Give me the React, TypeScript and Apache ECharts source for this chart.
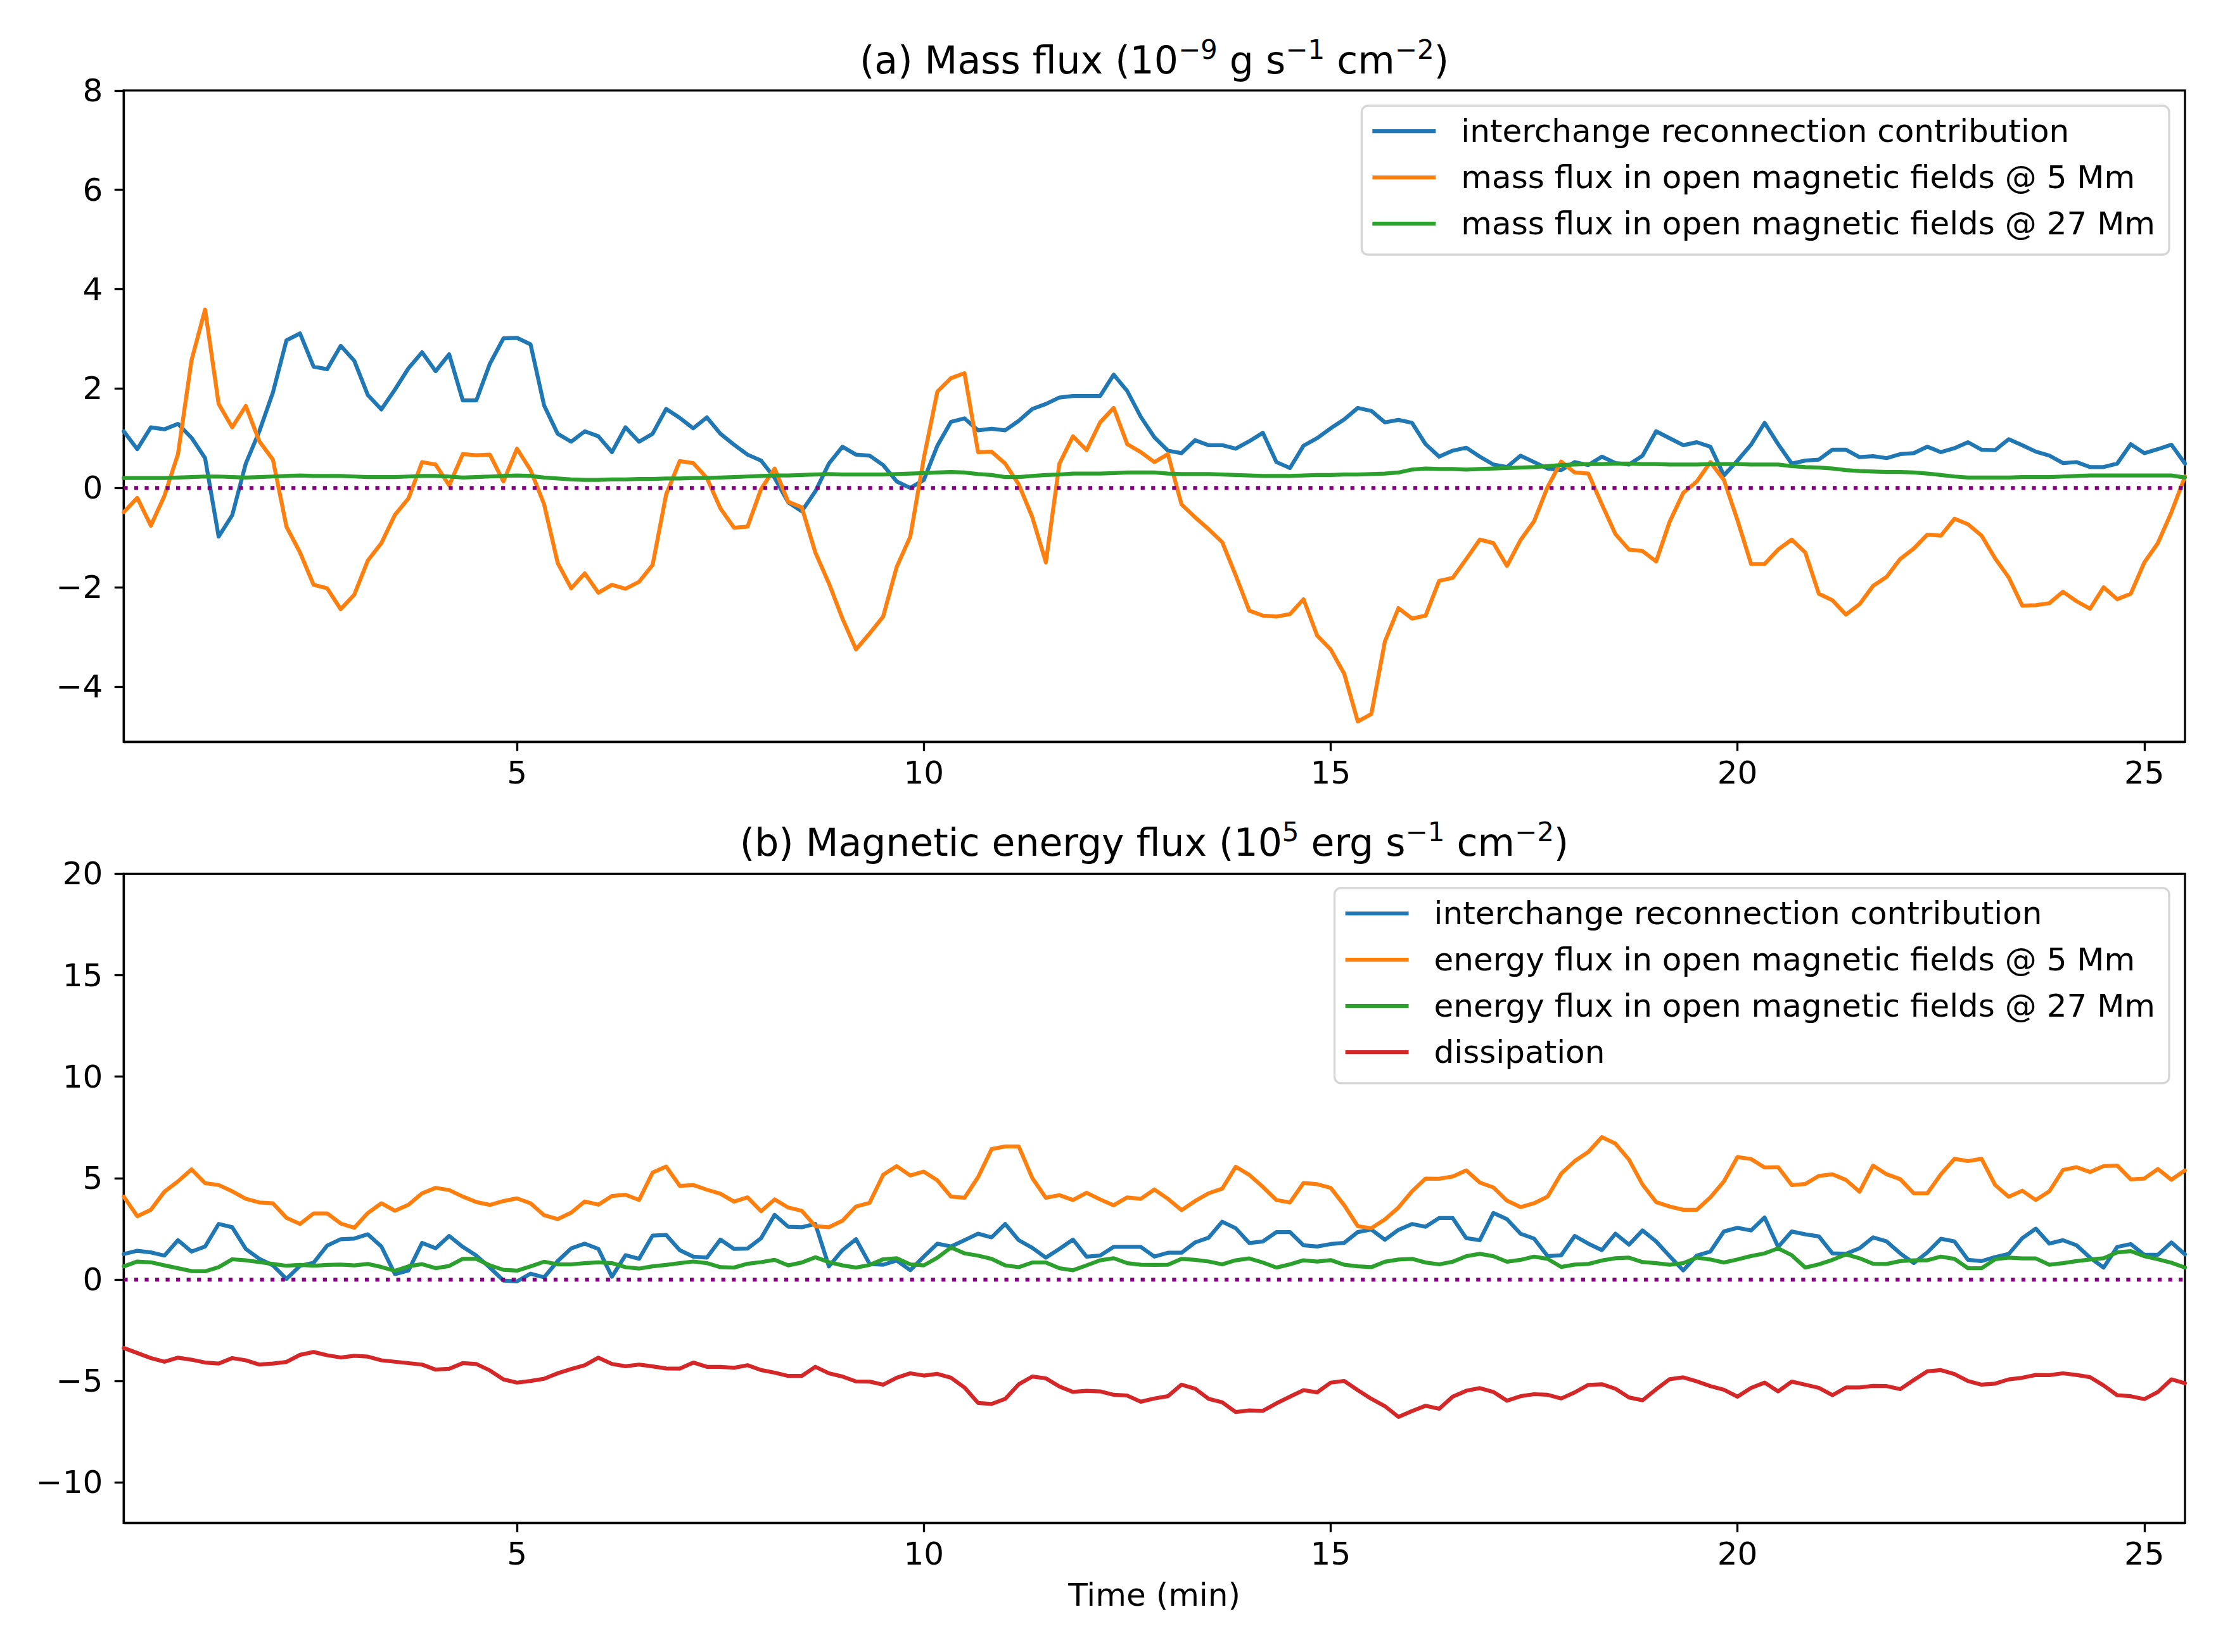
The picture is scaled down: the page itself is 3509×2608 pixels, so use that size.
import React, { useEffect, useRef } from "react";
import * as echarts from "echarts";

const FONT = "DejaVu Sans";

// Panel (a): mass flux (1e-9 g s^-1 cm^-2), one sample every 10 s
const MASS_RECON = [
  1.14, 0.78, 1.22, 1.18, 1.29, 1.01, 0.60, -0.98, -0.55, 0.49, 1.14, 1.92, 2.97, 3.11, 2.44, 2.39, 2.86, 2.56, 1.87, 1.58,
  1.98, 2.41, 2.73, 2.35, 2.69, 1.76, 1.76, 2.50, 3.01, 3.02, 2.89, 1.66, 1.09, 0.93, 1.14, 1.04, 0.72, 1.22, 0.93,
  1.09, 1.59, 1.41, 1.20, 1.42, 1.09, 0.87, 0.67, 0.55, 0.20, -0.29, -0.47, -0.07, 0.49, 0.83, 0.67, 0.65, 0.46, 0.13, 0.00,
  0.16, 0.85, 1.33, 1.40, 1.16, 1.19, 1.16, 1.35, 1.59, 1.69, 1.82, 1.85, 1.85, 1.85, 2.28, 1.95, 1.43, 1.02,
  0.75, 0.70, 0.96, 0.86, 0.86, 0.79, 0.94, 1.11, 0.52, 0.40, 0.85, 1.00, 1.20, 1.38, 1.61, 1.55, 1.32, 1.37, 1.31, 0.88,
  0.63, 0.75, 0.81, 0.63, 0.47, 0.42, 0.65, 0.52, 0.39, 0.36, 0.52, 0.46, 0.63, 0.50, 0.47, 0.65, 1.14, 1.00,
  0.86, 0.92, 0.83, 0.25, 0.55, 0.87, 1.31, 0.88, 0.49, 0.55, 0.57, 0.77, 0.77, 0.62, 0.64, 0.60, 0.68, 0.70, 0.83, 0.72,
  0.80, 0.92, 0.77, 0.76, 0.98, 0.86, 0.73, 0.65, 0.50, 0.52, 0.42, 0.42, 0.49, 0.88, 0.70, 0.78, 0.87, 0.49,
];
const MASS_5MM = [
  -0.49, -0.20, -0.76, -0.16, 0.68, 2.57, 3.59, 1.69, 1.22, 1.65, 0.94, 0.57, -0.78, -1.30, -1.95, -2.02, -2.44, -2.15, -1.46, -1.11,
  -0.54, -0.21, 0.52, 0.47, 0.05, 0.68, 0.66, 0.67, 0.13, 0.79, 0.36, -0.33, -1.51, -2.02, -1.72, -2.11, -1.95, -2.03, -1.89,
  -1.55, -0.13, 0.54, 0.50, 0.20, -0.41, -0.80, -0.78, -0.02, 0.39, -0.28, -0.39, -1.30, -1.92, -2.63, -3.25, -2.93, -2.59, -1.59, -0.98,
  0.60, 1.94, 2.21, 2.31, 0.72, 0.73, 0.49, 0.07, -0.59, -1.50, 0.49, 1.04, 0.76, 1.32, 1.61, 0.88, 0.72, 0.52,
  0.68, -0.33, -0.59, -0.83, -1.09, -1.76, -2.47, -2.57, -2.59, -2.54, -2.24, -2.97, -3.25, -3.74, -4.70, -4.55, -3.09, -2.42, -2.63, -2.57,
  -1.87, -1.81, -1.43, -1.04, -1.11, -1.57, -1.05, -0.67, 0.02, 0.53, 0.31, 0.29, -0.33, -0.93, -1.24, -1.27, -1.48, -0.68,
  -0.10, 0.13, 0.52, 0.16, -0.65, -1.53, -1.53, -1.24, -1.04, -1.30, -2.13, -2.26, -2.55, -2.34, -1.97, -1.79, -1.43, -1.22, -0.94, -0.96,
  -0.62, -0.73, -0.96, -1.42, -1.80, -2.37, -2.36, -2.32, -2.09, -2.28, -2.43, -2.00, -2.24, -2.13, -1.50, -1.11, -0.49, 0.23,
];
const MASS_27MM = [
  0.20, 0.20, 0.20, 0.20, 0.21, 0.22, 0.23, 0.23, 0.22, 0.21, 0.22, 0.23, 0.24, 0.25, 0.24, 0.24, 0.24, 0.23, 0.22, 0.22,
  0.22, 0.23, 0.24, 0.24, 0.23, 0.21, 0.22, 0.23, 0.24, 0.25, 0.24, 0.21, 0.19, 0.17, 0.16, 0.16, 0.17, 0.17, 0.18,
  0.18, 0.19, 0.19, 0.20, 0.20, 0.21, 0.22, 0.23, 0.24, 0.25, 0.25, 0.26, 0.27, 0.28, 0.27, 0.27, 0.27, 0.27, 0.28, 0.29,
  0.30, 0.31, 0.32, 0.31, 0.28, 0.26, 0.22, 0.22, 0.24, 0.26, 0.27, 0.29, 0.29, 0.29, 0.30, 0.31, 0.31, 0.31,
  0.29, 0.28, 0.28, 0.28, 0.27, 0.26, 0.25, 0.24, 0.24, 0.24, 0.25, 0.26, 0.26, 0.27, 0.27, 0.28, 0.29, 0.31, 0.37, 0.39,
  0.38, 0.38, 0.37, 0.38, 0.39, 0.40, 0.41, 0.42, 0.44, 0.46, 0.47, 0.48, 0.48, 0.49, 0.49, 0.48, 0.48, 0.47,
  0.47, 0.47, 0.48, 0.48, 0.48, 0.47, 0.47, 0.47, 0.44, 0.42, 0.41, 0.39, 0.36, 0.34, 0.33, 0.32, 0.32, 0.31, 0.29, 0.26,
  0.23, 0.21, 0.21, 0.21, 0.21, 0.22, 0.22, 0.22, 0.23, 0.24, 0.25, 0.25, 0.25, 0.25, 0.25, 0.25, 0.25, 0.21,
];

// Panel (b): magnetic energy flux (1e5 erg s^-1 cm^-2)
const ENERGY_RECON = [
  1.26, 1.42, 1.34, 1.18, 1.94, 1.38, 1.63, 2.74, 2.58, 1.51, 1.02, 0.70, 0.03, 0.68, 0.83, 1.67, 1.99, 2.02, 2.23, 1.63,
  0.27, 0.45, 1.81, 1.54, 2.15, 1.61, 1.18, 0.59, -0.05, -0.09, 0.29, 0.11, 0.91, 1.54, 1.77, 1.51, 0.14, 1.20, 1.02,
  2.17, 2.20, 1.45, 1.13, 1.08, 1.97, 1.51, 1.53, 2.04, 3.19, 2.60, 2.58, 2.74, 0.65, 1.45, 1.99, 0.77, 0.73, 0.94, 0.46,
  1.13, 1.77, 1.63, 1.94, 2.26, 2.08, 2.74, 1.94, 1.56, 1.08, 1.51, 1.97, 1.13, 1.18, 1.61, 1.61, 1.61, 1.13,
  1.32, 1.32, 1.83, 2.06, 2.85, 2.53, 1.80, 1.88, 2.34, 2.34, 1.69, 1.63, 1.75, 1.81, 2.34, 2.47, 1.96, 2.45, 2.74, 2.60,
  3.03, 3.03, 2.04, 1.94, 3.28, 2.98, 2.26, 2.02, 1.15, 1.20, 2.15, 1.77, 1.45, 2.26, 1.72, 2.42, 1.88, 1.15,
  0.45, 1.18, 1.38, 2.37, 2.55, 2.42, 3.06, 1.61, 2.37, 2.23, 2.13, 1.29, 1.27, 1.54, 2.08, 1.88, 1.29, 0.81, 1.34, 2.01,
  1.88, 0.97, 0.91, 1.11, 1.26, 2.04, 2.51, 1.77, 1.94, 1.69, 1.08, 0.59, 1.61, 1.75, 1.22, 1.22, 1.83, 1.24,
];
const ENERGY_5MM = [
  4.09, 3.12, 3.44, 4.33, 4.84, 5.43, 4.75, 4.66, 4.35, 3.98, 3.80, 3.76, 3.04, 2.74, 3.26, 3.26, 2.76, 2.55, 3.28, 3.76,
  3.39, 3.69, 4.25, 4.52, 4.41, 4.09, 3.82, 3.68, 3.87, 4.00, 3.76, 3.17, 2.98, 3.30, 3.85, 3.69, 4.12, 4.18, 3.92,
  5.27, 5.57, 4.62, 4.66, 4.43, 4.23, 3.84, 4.05, 3.37, 3.95, 3.55, 3.39, 2.63, 2.58, 2.90, 3.60, 3.78, 5.16, 5.59, 5.13,
  5.32, 4.89, 4.09, 4.03, 5.05, 6.43, 6.56, 6.56, 5.00, 4.03, 4.16, 3.92, 4.28, 3.95, 3.66, 4.05, 3.98, 4.44,
  3.98, 3.42, 3.87, 4.25, 4.48, 5.56, 5.16, 4.57, 3.92, 3.80, 4.76, 4.70, 4.52, 3.66, 2.63, 2.53, 2.96, 3.55, 4.35, 4.98,
  4.97, 5.08, 5.38, 4.78, 4.54, 3.89, 3.57, 3.76, 4.09, 5.22, 5.84, 6.29, 7.02, 6.70, 5.91, 4.68, 3.82, 3.60,
  3.44, 3.44, 4.05, 4.84, 6.04, 5.94, 5.52, 5.54, 4.66, 4.71, 5.11, 5.19, 4.91, 4.33, 5.62, 5.19, 4.95, 4.25, 4.25, 5.19,
  5.95, 5.84, 5.95, 4.66, 4.08, 4.38, 3.92, 4.35, 5.40, 5.54, 5.30, 5.59, 5.62, 4.94, 4.98, 5.45, 4.92, 5.38,
];
const ENERGY_27MM = [
  0.65, 0.89, 0.85, 0.70, 0.56, 0.42, 0.41, 0.61, 1.00, 0.95, 0.86, 0.77, 0.68, 0.72, 0.68, 0.72, 0.74, 0.70, 0.77, 0.62,
  0.43, 0.65, 0.76, 0.56, 0.67, 1.02, 1.02, 0.70, 0.48, 0.44, 0.65, 0.88, 0.75, 0.75, 0.81, 0.85, 0.81, 0.61, 0.54,
  0.65, 0.72, 0.81, 0.89, 0.81, 0.61, 0.59, 0.78, 0.86, 0.97, 0.70, 0.84, 1.10, 0.86, 0.70, 0.59, 0.72, 1.00, 1.05, 0.75,
  0.70, 1.08, 1.58, 1.29, 1.18, 1.02, 0.70, 0.61, 0.84, 0.84, 0.56, 0.46, 0.70, 0.95, 1.05, 0.81, 0.73, 0.72,
  0.73, 1.02, 0.97, 0.89, 0.75, 0.95, 1.04, 0.84, 0.59, 0.75, 0.95, 0.89, 0.96, 0.73, 0.65, 0.61, 0.88, 0.99, 1.02, 0.84,
  0.75, 0.88, 1.15, 1.27, 1.15, 0.88, 0.97, 1.13, 1.02, 0.62, 0.74, 0.77, 0.94, 1.05, 1.08, 0.86, 0.81, 0.73,
  0.81, 1.08, 0.99, 0.84, 0.99, 1.16, 1.29, 1.54, 1.20, 0.59, 0.75, 0.97, 1.24, 1.05, 0.78, 0.77, 0.91, 0.95, 0.95, 1.13,
  1.02, 0.56, 0.56, 1.00, 1.08, 1.04, 1.04, 0.73, 0.81, 0.91, 0.99, 1.05, 1.34, 1.40, 1.15, 1.00, 0.83, 0.59,
];
const DISSIPATION = [
  -3.37, -3.62, -3.87, -4.05, -3.85, -3.95, -4.09, -4.14, -3.87, -3.98, -4.19, -4.14, -4.06, -3.71, -3.57, -3.73, -3.84, -3.76, -3.80, -3.98,
  -4.05, -4.12, -4.19, -4.44, -4.40, -4.12, -4.16, -4.48, -4.92, -5.08, -5.00, -4.89, -4.62, -4.41, -4.22, -3.85, -4.16, -4.27, -4.19,
  -4.28, -4.38, -4.39, -4.09, -4.30, -4.30, -4.35, -4.22, -4.46, -4.59, -4.75, -4.75, -4.30, -4.62, -4.78, -5.02, -5.03, -5.18, -4.84, -4.62,
  -4.73, -4.65, -4.84, -5.32, -6.08, -6.13, -5.88, -5.16, -4.78, -4.87, -5.27, -5.54, -5.48, -5.51, -5.68, -5.72, -6.02, -5.86,
  -5.75, -5.18, -5.38, -5.88, -6.05, -6.53, -6.45, -6.47, -6.10, -5.77, -5.45, -5.56, -5.08, -5.00, -5.45, -5.88, -6.24, -6.77, -6.48, -6.22,
  -6.37, -5.77, -5.48, -5.35, -5.54, -5.97, -5.75, -5.65, -5.68, -5.86, -5.56, -5.19, -5.16, -5.38, -5.81, -5.95, -5.41, -4.91,
  -4.82, -5.02, -5.25, -5.43, -5.77, -5.34, -5.08, -5.51, -5.03, -5.18, -5.34, -5.70, -5.32, -5.32, -5.24, -5.25, -5.40, -4.95, -4.52, -4.46,
  -4.66, -5.00, -5.18, -5.13, -4.92, -4.84, -4.70, -4.71, -4.62, -4.70, -4.81, -5.22, -5.70, -5.75, -5.89, -5.54, -4.92, -5.11,
];

// sample times in minutes (10 s cadence, first sample at 10 s)
const TIME_MIN = MASS_RECON.map((_, i) => (i + 1) / 6);
const X_MIN = TIME_MIN[0];
const X_MAX = TIME_MIN[TIME_MIN.length - 1];
const X_TICKS = [5, 10, 15, 20, 25];

const YA_MIN = -5.11;
const YA_MAX = 8;
const YA_TICKS = [-4, -2, 0, 2, 4, 6, 8];
const YB_MIN = -12;
const YB_MAX = 20;
const YB_TICKS = [-10, -5, 0, 5, 10, 15, 20];

const NAMES_A = [
  "interchange reconnection contribution",
  "mass flux in open magnetic fields @ 5 Mm",
  "mass flux in open magnetic fields @ 27 Mm",
];
const NAMES_B = [
  "interchange reconnection contribution",
  "energy flux in open magnetic fields @ 5 Mm",
  "energy flux in open magnetic fields @ 27 Mm",
  "dissipation",
];

const C_BLUE = "#1f77b4";
const C_ORANGE = "#ff7f0e";
const C_GREEN = "#2ca02c";
const C_RED = "#d62728";
const C_PURPLE = "#800080";

const LW = 6.25;
const SPINE = 3.33;
const FS = 50;

const fmt = (v: number) => (v < 0 ? "\u2212" + Math.abs(v) : String(v));
const pairs = (arr: number[]) => arr.map((v, i) => [TIME_MIN[i], v]);

function lineSeries(name: string, data: number[], color: string, idx: number) {
  return {
    type: "line",
    name,
    xAxisIndex: idx,
    yAxisIndex: idx,
    data: pairs(data),
    showSymbol: false,
    symbol: "none",
    lineStyle: { color, width: LW, cap: "round", join: "round" },
    itemStyle: { color },
    emphasis: { disabled: true },
  };
}

function zeroSeries(idx: number) {
  return {
    type: "line",
    name: "zero" + idx,
    xAxisIndex: idx,
    yAxisIndex: idx,
    data: [
      [X_MIN, 0],
      [X_MAX, 0],
    ],
    showSymbol: false,
    symbol: "none",
    lineStyle: { color: C_PURPLE, width: LW, type: [LW, 10.3], cap: "butt" },
    itemStyle: { color: C_PURPLE },
    emphasis: { disabled: true },
    z: 3,
  };
}

function xAxis(idx: number, withName: boolean) {
  return {
    type: "value",
    gridIndex: idx,
    min: X_MIN,
    max: X_MAX,
    name: withName ? "Time (min)" : "",
    nameLocation: "middle",
    nameGap: 89,
    nameTextStyle: { fontSize: FS, color: "#000", fontFamily: FONT },
    axisLine: { show: true, onZero: false, lineStyle: { color: "#000", width: SPINE } },
    axisTick: { show: true, length: 14.6, lineStyle: { color: "#000", width: SPINE }, customValues: X_TICKS },
    axisLabel: { show: true, customValues: X_TICKS, fontSize: FS, color: "#000", fontFamily: FONT, margin: 24, formatter: fmt },
    splitLine: { show: false },
  };
}

function yAxis(idx: number, min: number, max: number, ticks: number[]) {
  return {
    type: "value",
    gridIndex: idx,
    min,
    max,
    axisLine: { show: true, onZero: false, lineStyle: { color: "#000", width: SPINE } },
    axisTick: { show: true, length: 14.6, lineStyle: { color: "#000", width: SPINE }, customValues: ticks },
    axisLabel: { show: true, customValues: ticks, fontSize: FS, color: "#000", fontFamily: FONT, margin: 33, formatter: fmt },
    splitLine: { show: false },
  };
}

function legend(names: string[], top: number) {
  return {
    data: names,
    orient: "vertical",
    right: 85,
    top,
    align: "left",
    icon: "rect",
    itemWidth: 100,
    itemHeight: LW,
    itemGap: 23,
    padding: [15, 22, 24, 17],
    backgroundColor: "rgba(255,255,255,0.8)",
    borderColor: "#d6d6d6",
    borderWidth: SPINE,
    borderRadius: 10,
    itemStyle: { borderWidth: 0 },
    selectedMode: false,
    textStyle: { fontSize: FS, lineHeight: 50, color: "#000", fontFamily: FONT, padding: [0, 0, 0, 35] },
  };
}

const RICH = {
  n: { fontSize: 60, lineHeight: 76, fontFamily: FONT, fill: "#000", color: "#000" },
  s: { fontSize: 42, lineHeight: 42, fontFamily: FONT, fill: "#000", color: "#000", verticalAlign: "top" },
};

function titleText(text: string, y: number) {
  return {
    type: "text",
    x: 1822,
    y,
    style: {
      text,
      rich: RICH,
      align: "center",
      verticalAlign: "top",
      textAlign: "center",
      textVerticalAlign: "top",
      fill: "#000",
      font: `60px "${FONT}"`,
    },
  };
}

export default function App() {
  const ref = useRef<HTMLDivElement>(null);
  useEffect(() => {
    document.body.style.margin = "0";
    if (!ref.current) return;
    const chart = echarts.init(ref.current, undefined, { renderer: "svg" });
    chart.setOption({
      animation: false,
      backgroundColor: "#ffffff",
      textStyle: { fontFamily: FONT },
      grid: [
        { left: 195.3, top: 142.8, width: 3253.7, height: 1028.3, show: true, borderColor: "#000", borderWidth: SPINE, backgroundColor: "rgba(0,0,0,0)" },
        { left: 195.3, top: 1379.4, width: 3253.7, height: 1025, show: true, borderColor: "#000", borderWidth: SPINE, backgroundColor: "rgba(0,0,0,0)" },
      ],
      xAxis: [xAxis(0, false), xAxis(1, true)],
      yAxis: [yAxis(0, YA_MIN, YA_MAX, YA_TICKS), yAxis(1, YB_MIN, YB_MAX, YB_TICKS)],
      legend: [legend(NAMES_A, 167), legend(NAMES_B, 1402)],
      series: [
        lineSeries(NAMES_A[0], MASS_RECON, C_BLUE, 0),
        lineSeries(NAMES_A[1], MASS_5MM, C_ORANGE, 0),
        lineSeries(NAMES_A[2], MASS_27MM, C_GREEN, 0),
        zeroSeries(0),
        lineSeries(NAMES_B[0], ENERGY_RECON, C_BLUE, 1),
        lineSeries(NAMES_B[1], ENERGY_5MM, C_ORANGE, 1),
        lineSeries(NAMES_B[2], ENERGY_27MM, C_GREEN, 1),
        lineSeries(NAMES_B[3], DISSIPATION, C_RED, 1),
        zeroSeries(1),
      ],
      graphic: [
        titleText("{n|(a) Mass flux (10}{s|\u22129}{n|\u00a0g s}{s|\u22121}{n|\u00a0cm}{s|\u22122}{n|)}", 57),
        titleText("{n|(b) Magnetic energy flux (10}{s|5}{n|\u00a0erg s}{s|\u22121}{n|\u00a0cm}{s|\u22122}{n|)}", 1292),
      ],
    });
    return () => chart.dispose();
  }, []);
  return <div ref={ref} style={{ width: 3509, height: 2608, position: "absolute", left: 0, top: 0 }} />;
}
